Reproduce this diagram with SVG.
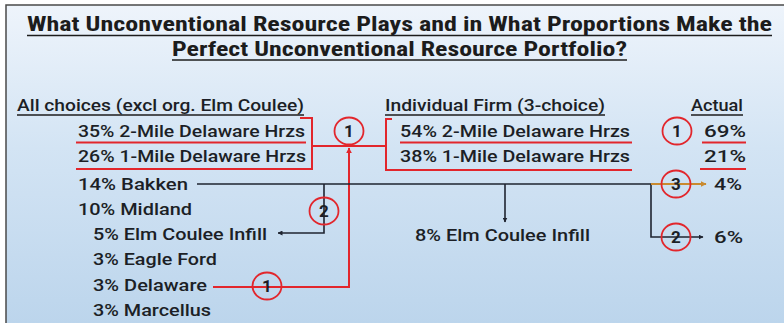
<svg xmlns="http://www.w3.org/2000/svg" width="784" height="323" viewBox="0 0 784 323">
<defs>
<linearGradient id="bg" x1="0" y1="0" x2="0" y2="1">
<stop offset="0" stop-color="#eef4fb"/>
<stop offset="0.45" stop-color="#d3e4f4"/>
<stop offset="1" stop-color="#bcd5ec"/>
</linearGradient>
<marker id="ak" viewBox="0 0 10 10" refX="9" refY="5" markerWidth="5" markerHeight="5" orient="auto" markerUnits="userSpaceOnUse"><path d="M0,0 L10,5 L0,10 z" fill="#1f2430"/></marker>
<marker id="ar" viewBox="0 0 10 10" refX="9" refY="5" markerWidth="6" markerHeight="6" orient="auto" markerUnits="userSpaceOnUse"><path d="M0,0 L10,5 L0,10 z" fill="#e2262c"/></marker>
<marker id="ao" viewBox="0 0 10 10" refX="9" refY="5" markerWidth="6" markerHeight="6" orient="auto" markerUnits="userSpaceOnUse"><path d="M0,0 L10,5 L0,10 z" fill="#c98a30"/></marker>
</defs>
<style>
.t{font-family:"Liberation Sans Narrow","Roboto Condensed","Liberation Sans",Arial,sans-serif;font-weight:bold;font-size:21px;fill:#1c1c1c}
.b{font-family:Roboto,"Liberation Sans",Arial,sans-serif;font-weight:500;font-size:17px;fill:#1c1f26}
.c{font-family:Roboto,"Liberation Sans",Arial,sans-serif;font-weight:700;font-size:17px;fill:#1c1f26;text-anchor:middle}
.ul{stroke:#1c1c1c;stroke-width:1.3;fill:none}
.ru{stroke:#e2262c;stroke-width:2;fill:none}
.rc{stroke:#e2262c;stroke-width:1.8;fill:none}
.k{stroke:#1f2430;stroke-width:1.6;fill:none}
.r{stroke:#e2262c;stroke-width:2;fill:none}
.o{stroke:#c98a30;stroke-width:2;fill:none}
</style>
<rect x="0" y="0" width="784" height="323" fill="#ffffff"/>
<rect x="6" y="5" width="778" height="318" fill="url(#bg)"/>
<path d="M6,323 V5 H784" stroke="#4a4a4a" stroke-width="1.5" fill="none"/>

<g id="title">
<text class="t" x="27" y="31" textLength="745" lengthAdjust="spacingAndGlyphs">What Unconventional Resource Plays and in What Proportions Make the</text>
<line class="ul" x1="27" y1="35.5" x2="772" y2="35.5" stroke-width="1.6"/>
<text class="t" x="172" y="56" textLength="455" lengthAdjust="spacingAndGlyphs">Perfect Unconventional Resource Portfolio?</text>
<line class="ul" x1="172" y1="60" x2="627" y2="60" stroke-width="1.6"/>
</g>

<g id="connectors">
<path class="r" d="M300,118 H312 V169 H76"/>
<line class="ru" x1="76" y1="142.5" x2="306" y2="142.5"/>
<path class="r" d="M392,119 H386 V170 H632"/>
<line class="ru" x1="400" y1="142.5" x2="632" y2="142.5"/>
<line class="r" x1="312" y1="146" x2="386" y2="146"/>
<path class="r" d="M213,287 H349 V148" marker-end="url(#ar)"/>
<path class="k" d="M197,184 H651 V237 H703" marker-end="url(#ak)"/>
<line class="o" x1="651" y1="184" x2="706" y2="184" marker-end="url(#ao)"/>
<line class="k" x1="505" y1="184" x2="505" y2="222" marker-end="url(#ak)"/>
<path class="k" d="M324,184 V233 H278" marker-end="url(#ak)"/>
<line class="ru" x1="702" y1="142.5" x2="746" y2="142.5"/>
<line class="ru" x1="700" y1="169" x2="746" y2="169"/>
</g>

<g id="left-list">
<text class="b" x="17" y="111" textLength="287" lengthAdjust="spacingAndGlyphs">All choices (excl org. Elm Coulee)</text>
<line class="ul" x1="17" y1="115" x2="304" y2="115"/>
<text class="b" x="78" y="137" textLength="227" lengthAdjust="spacingAndGlyphs">35% 2-Mile Delaware Hrzs</text>
<text class="b" x="78" y="162" textLength="228" lengthAdjust="spacingAndGlyphs">26% 1-Mile Delaware Hrzs</text>
<text class="b" x="78" y="190" textLength="110" lengthAdjust="spacingAndGlyphs">14% Bakken</text>
<text class="b" x="78" y="215" textLength="114" lengthAdjust="spacingAndGlyphs">10% Midland</text>
<text class="b" x="93" y="240" textLength="174" lengthAdjust="spacingAndGlyphs">5% Elm Coulee Infill</text>
<text class="b" x="93" y="265" textLength="124" lengthAdjust="spacingAndGlyphs">3% Eagle Ford</text>
<text class="b" x="93" y="291" textLength="114" lengthAdjust="spacingAndGlyphs">3% Delaware</text>
<text class="b" x="93" y="316" textLength="118" lengthAdjust="spacingAndGlyphs">3% Marcellus</text>
</g>

<g id="firm-list">
<text class="b" x="385" y="111" textLength="220" lengthAdjust="spacingAndGlyphs">Individual Firm (3-choice)</text>
<line class="ul" x1="385" y1="115" x2="605" y2="115"/>
<text class="b" x="400" y="137" textLength="230" lengthAdjust="spacingAndGlyphs">54% 2-Mile Delaware Hrzs</text>
<text class="b" x="400" y="162" textLength="230" lengthAdjust="spacingAndGlyphs">38% 1-Mile Delaware Hrzs</text>
<text class="b" x="415" y="241" textLength="175" lengthAdjust="spacingAndGlyphs">8% Elm Coulee Infill</text>
</g>

<g id="actual-list">
<text class="b" x="691" y="111" textLength="52" lengthAdjust="spacingAndGlyphs">Actual</text>
<line class="ul" x1="691" y1="115" x2="743" y2="115"/>
<text class="b" x="704" y="137" textLength="42" lengthAdjust="spacingAndGlyphs">69%</text>
<text class="b" x="704" y="162" textLength="42" lengthAdjust="spacingAndGlyphs">21%</text>
<text class="b" x="714" y="190" textLength="28" lengthAdjust="spacingAndGlyphs">4%</text>
<text class="b" x="714" y="243" textLength="29" lengthAdjust="spacingAndGlyphs">6%</text>
</g>

<g id="badge-1-top">
<ellipse class="rc" cx="349" cy="131" rx="14.5" ry="13.5"/>
<text class="c" x="349" y="137">1</text>
</g>
<g id="badge-1-actual">
<ellipse class="rc" cx="677" cy="131" rx="14.5" ry="13.5"/>
<text class="c" x="677" y="137">1</text>
</g>
<g id="badge-2-left">
<ellipse class="rc" cx="324" cy="211" rx="14.5" ry="13.5"/>
<text class="c" x="324" y="217">2</text>
</g>
<g id="badge-1-delaware">
<ellipse class="rc" cx="267" cy="286" rx="14.5" ry="13.5"/>
<text class="c" x="267" y="292">1</text>
</g>
<g id="badge-3">
<ellipse class="rc" cx="676" cy="184" rx="14.5" ry="13.5"/>
<text class="c" x="676" y="190">3</text>
</g>
<g id="badge-2-right">
<ellipse class="rc" cx="676" cy="237" rx="14.5" ry="13.5"/>
<text class="c" x="676" y="243">2</text>
</g>
</svg>
